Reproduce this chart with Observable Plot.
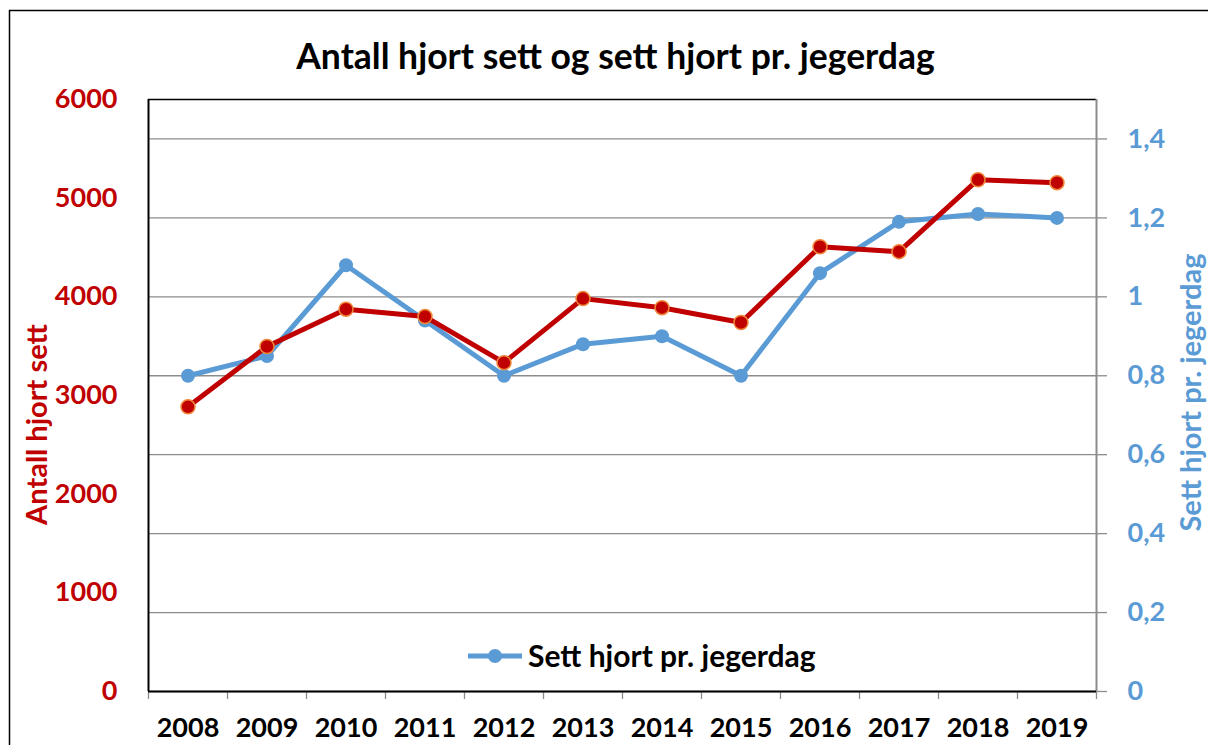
<!DOCTYPE html>
<html>
<head>
<meta charset="utf-8">
<script src="https://cdn.jsdelivr.net/npm/d3@7"></script>
<script src="https://cdn.jsdelivr.net/npm/@observablehq/plot@0.6"></script>
<style>
  html, body { margin: 0; padding: 0; background: #fff; }
  #chart { width: 1208px; height: 745px; overflow: hidden; }
</style>
</head>
<body>
<div id="chart"></div>
<script>
// ---- data ----
const years = [2008, 2009, 2010, 2011, 2012, 2013, 2014, 2015, 2016, 2017, 2018, 2019];
const antallSett = [2885, 3497, 3875, 3800, 3333, 3982, 3890, 3740, 4508, 4458, 5187, 5157];
const settPerDag = [0.80, 0.85, 1.08, 0.94, 0.80, 0.88, 0.90, 0.80, 1.06, 1.19, 1.21, 1.20];
const leftTicks = [0, 1000, 2000, 3000, 4000, 5000, 6000];
const rightTicks = [0, 0.2, 0.4, 0.6, 0.8, 1.0, 1.2, 1.4];
const titleText = "Antall hjort sett og sett hjort pr. jegerdag";
const leftLabel = "Antall hjort sett";
const rightLabel = "Sett hjort pr. jegerdag";
const legendLabel = "Sett hjort pr. jegerdag";

// left max 6000 corresponds to right max 1.5
const SCALE = 6000 / 1.5;
const RED = "#C00000", BLUE = "#5B9BD5", GRID = "#8c8c8c";

const data = years.map((y, i) => ({year: y, antall: antallSett[i], perDag: settPerDag[i]}));
const boundaries = years.map(y => y - 0.5).concat([years[years.length - 1] + 0.5]);
const fmtComma = v => String(Math.round(v * 10) / 10).replace(".", ",");

// custom mark: outer chart border (extends past right and bottom edges)
function borderMark(index, scales, values, dim, context) {
  const g = d3.create("svg:g");
  g.append("rect").attr("x", 9.5).attr("y", 10.5)
    .attr("width", dim.width + 50).attr("height", dim.height + 50)
    .attr("fill", "none").attr("stroke", "#000").attr("stroke-width", 1.5);
  return g.node();
}

// custom mark: in-plot legend
function legendMark(index, scales, values, dim, context) {
  const g = d3.create("svg:g");
  const x0 = dim.marginLeft + 320;
  const y0 = dim.height - dim.marginBottom - 35;
  g.append("line").attr("x1", x0).attr("x2", x0 + 54).attr("y1", y0).attr("y2", y0)
    .attr("stroke", BLUE).attr("stroke-width", 5);
  g.append("circle").attr("cx", x0 + 27).attr("cy", y0).attr("r", 7).attr("fill", BLUE);
  g.append("text").attr("x", x0 + 60).attr("y", y0).attr("dy", "0.35em")
    .attr("text-anchor", "start")
    .attr("font-family", "Lato").attr("font-weight", "bold").attr("font-size", 30)
    .attr("fill", "#000").text(legendLabel);
  return g.node();
}

const plot = Plot.plot({
  width: 1208,
  height: 745,
  marginLeft: 148,
  marginRight: 112,
  marginTop: 99,
  marginBottom: 54,
  style: {fontFamily: "Lato", fontWeight: "bold", fontSize: "27px", background: "#fff"},
  x: {type: "linear", domain: [boundaries[0], boundaries[boundaries.length - 1]]},
  y: {type: "linear", domain: [0, 6000]},
  marks: [
    borderMark,
    // gridlines (every 0.2 on the right axis)
    Plot.ruleY(rightTicks, {y: d => d * SCALE, stroke: GRID, strokeWidth: 1.3}),
    // frame
    Plot.ruleY([6000], {stroke: "#000", strokeWidth: 1.5}),
    Plot.ruleX([boundaries[boundaries.length - 1]], {stroke: GRID, strokeWidth: 2}),
    // left axis
    Plot.axisY({anchor: "left", ticks: leftTicks, tickSize: 0, tickPadding: 31,
      fill: RED, label: null, fontSize: 27, tickFormat: d => String(d)}),
    // right axis
    Plot.axisY({anchor: "right", ticks: rightTicks.map(v => v * SCALE), tickSize: 10, tickPadding: 21,
      stroke: GRID, strokeWidth: 1.3, fill: BLUE, label: null, fontSize: 27,
      tickFormat: d => fmtComma(d / SCALE)}),
    // x axis: boundary ticks and centered year labels
    Plot.axisX({ticks: boundaries, tickSize: 8, stroke: GRID, strokeWidth: 1.3, tickFormat: () => "", label: null}),
    Plot.axisX({ticks: years, tickSize: 0, tickPadding: 26, fill: "#000", fontSize: 27,
      tickFormat: d => String(d), label: null}),
    Plot.ruleX([boundaries[0]], {stroke: "#000", strokeWidth: 2}),
    Plot.ruleY([0], {stroke: "#000", strokeWidth: 2}),
    // axis titles
    Plot.text([leftLabel], {text: d => d, frameAnchor: "left", textAnchor: "middle", rotate: -90, dx: -111, dy: 29,
      fill: RED, fontSize: 29, fontWeight: "bold"}),
    Plot.text([rightLabel], {text: d => d, frameAnchor: "right", textAnchor: "middle", rotate: -90, dx: 95, dy: -3,
      fill: BLUE, fontSize: 29, fontWeight: "bold"}),
    // title
    Plot.text([titleText], {text: d => d, frameAnchor: "top", lineAnchor: "middle", dx: -7, dy: -42,
      fill: "#000", fontSize: 35.5, fontWeight: "bold"}),
    // series: blue (right axis) then red (left axis)
    Plot.line(data, {x: "year", y: d => d.perDag * SCALE, stroke: BLUE, strokeWidth: 5}),
    Plot.dot(data, {x: "year", y: d => d.perDag * SCALE, r: 7, fill: BLUE, stroke: "none"}),
    Plot.line(data, {x: "year", y: "antall", stroke: RED, strokeWidth: 5}),
    Plot.dot(data, {x: "year", y: "antall", r: 7, fill: RED, stroke: "#F0883A", strokeWidth: 1.5}),
    legendMark
  ]
});
document.getElementById("chart").appendChild(plot);
</script>
</body>
</html>
